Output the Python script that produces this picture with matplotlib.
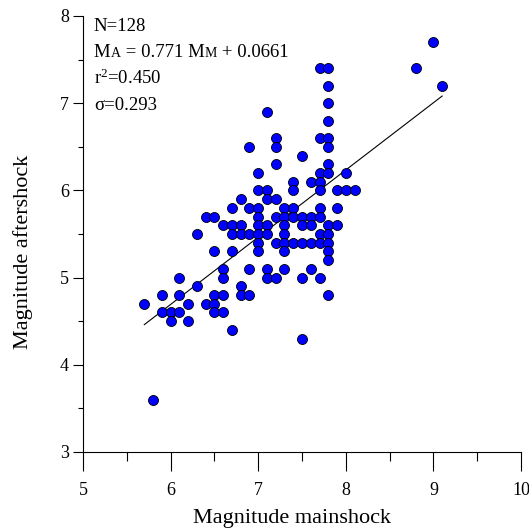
import numpy as np
import matplotlib
matplotlib.use('Agg')
import matplotlib.pyplot as plt
from matplotlib.offsetbox import TextArea, HPacker, VPacker, AnchoredOffsetbox

# 字型設定
plt.rcParams['font.family'] = 'Liberation Serif'
plt.rcParams['mathtext.fontset'] = 'custom'
plt.rcParams['mathtext.rm'] = 'Liberation Serif'
plt.rcParams['mathtext.it'] = 'Liberation Serif:italic'

# 主震與最大餘震規模
mainshock = [
    5.7, 5.8, 5.9, 5.9, 6.0, 6.0, 6.1, 6.1, 6.1, 6.2, 6.2, 6.3, 6.3, 6.4, 6.4,
    6.5, 6.5, 6.5, 6.5, 6.5, 6.6, 6.6, 6.6, 6.6, 6.6,
    6.7, 6.7, 6.7, 6.7, 6.7, 6.8, 6.8, 6.8, 6.8, 6.8, 6.9, 6.9, 6.9, 6.9, 6.9,
    7.0, 7.0, 7.0, 7.0, 7.0, 7.0, 7.0, 7.0,
    7.1, 7.1, 7.1, 7.1, 7.1, 7.1, 7.1,
    7.2, 7.2, 7.2, 7.2, 7.2, 7.2, 7.2,
    7.3, 7.3, 7.3, 7.3, 7.3, 7.3, 7.3,
    7.4, 7.4, 7.4, 7.4, 7.4,
    7.5, 7.5, 7.5, 7.5, 7.5, 7.5,
    7.6, 7.6, 7.6, 7.6, 7.6,
    7.7, 7.7, 7.7, 7.7, 7.7, 7.7, 7.7, 7.7, 7.7, 7.7,
    7.8, 7.8, 7.8, 7.8, 7.8, 7.8, 7.8, 7.8, 7.8, 7.8, 7.8, 7.8, 7.8, 7.8,
    7.9, 7.9, 7.9, 8.0, 8.0, 8.1, 8.8, 9.0, 9.1,
]
aftershock = [
    4.7, 3.6, 4.8, 4.6, 4.6, 4.5, 5.0, 4.8, 4.6, 4.7, 4.5, 5.5, 4.9, 5.7, 4.7,
    5.7, 5.3, 4.8, 4.7, 4.6, 5.6, 5.1, 5.0, 4.8, 4.6,
    5.8, 5.6, 5.5, 5.3, 4.4, 5.9, 5.6, 5.5, 4.9, 4.8, 6.5, 5.8, 5.5, 5.1, 4.8,
    6.2, 6.0, 5.8, 5.7, 5.6, 5.5, 5.4, 5.3,
    6.9, 6.0, 5.9, 5.6, 5.5, 5.1, 5.0,
    6.6, 6.5, 6.3, 5.9, 5.7, 5.4, 5.0,
    5.8, 5.7, 5.6, 5.5, 5.4, 5.3, 5.1,
    6.1, 6.0, 5.8, 5.7, 5.4,
    6.4, 5.7, 5.6, 5.4, 5.0, 4.3,
    6.1, 5.7, 5.6, 5.4, 5.1,
    7.4, 6.6, 6.2, 6.1, 6.0, 5.8, 5.7, 5.5, 5.4, 5.0,
    7.4, 7.2, 7.0, 6.8, 6.6, 6.5, 6.3, 6.2, 5.6, 5.5, 5.4, 5.3, 5.2, 4.8,
    6.0, 5.8, 5.6, 6.2, 6.0, 6.0, 7.4, 7.7, 7.2,
]

# 迴歸結果
n_events = 128
slope = 0.771
intercept = 0.0661
r_squared = 0.450
sigma = 0.293

fig = plt.figure(figsize=(5.29, 5.29), dpi=100)
ax = fig.add_axes([83 / 529, 77 / 529, 438 / 529, 436 / 529])

# 散佈點
ax.scatter(mainshock, aftershock, s=52, c='#0000ff', edgecolors='black', linewidths=0.6, zorder=3)

# 迴歸線
fit_x = np.array([min(mainshock), max(mainshock)])
ax.plot(fit_x, slope * fit_x + intercept, color='black', lw=0.8, zorder=2)

# 座標軸
ax.set_xlim(5, 10)
ax.set_ylim(3, 8)
ax.set_xticks([5, 6, 7, 8, 9, 10])
ax.set_yticks([3, 4, 5, 6, 7, 8])
ax.set_xticks(np.arange(5.5, 10, 1), minor=True)
ax.set_yticks(np.arange(3.5, 8, 1), minor=True)
ax.spines['top'].set_visible(False)
ax.spines['right'].set_visible(False)
for sp in ['left', 'bottom']:
    ax.spines[sp].set_linewidth(0.8)
ax.tick_params(axis='x', which='major', direction='out', length=13.5, width=0.8, labelsize=13, pad=8)
ax.tick_params(axis='x', which='minor', direction='out', length=6.5, width=0.8)
ax.tick_params(axis='y', which='major', direction='out', length=7, width=0.8, labelsize=13, pad=3)
ax.tick_params(axis='y', which='minor', direction='out', length=3.5, width=0.8)

ax.set_xlabel('Magnitude mainshock', fontsize=16)
ax.set_ylabel('Magnitude aftershock', fontsize=16)
ax.xaxis.set_label_coords(0.477, -0.13)
ax.yaxis.set_label_coords(-0.115, 0.46)

# 統計文字
big = dict(size=13.5)
small = dict(size=10)
line1 = TextArea(f'N={n_events}', textprops=big)
line2 = HPacker(children=[
    TextArea('M', textprops=big), TextArea('A', textprops=small),
    TextArea(f' = {slope} M', textprops=big), TextArea('M', textprops=small),
    TextArea(f' + {intercept}', textprops=big),
], align='baseline', pad=0, sep=0)
line3 = TextArea(r'r$^{\mathregular{2}}$=' + f'{r_squared:.3f}', textprops=big)
line4 = TextArea(f'σ={sigma}', textprops=big)
block = VPacker(children=[line1, line2, line3, line4], align='left', pad=0, sep=6)
anchored = AnchoredOffsetbox(loc='upper left', child=block, pad=0, borderpad=0, frameon=False,
                             bbox_to_anchor=(0.025, 0.995), bbox_transform=ax.transAxes)
ax.add_artist(anchored)

plt.savefig('out.png', dpi=100)
plt.close(fig)
